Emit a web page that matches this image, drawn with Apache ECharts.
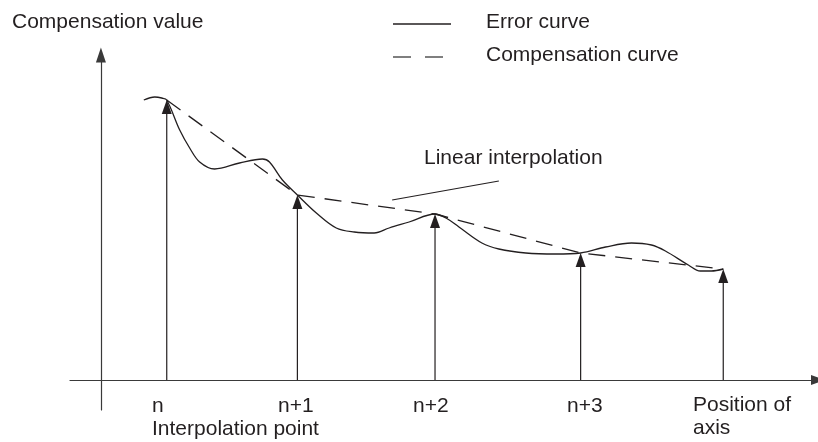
<!DOCTYPE html>
<html>
<head>
<meta charset="utf-8">
<script src="https://cdn.jsdelivr.net/npm/echarts@6/dist/echarts.min.js"></script>
<style>
  html, body { margin: 0; padding: 0; background: #fff; }
  #chart { width: 818px; height: 442px; }
</style>
</head>
<body>
<div id="chart"></div>
<script>
  // position along the axis (x) and compensation value (y)
  var errX = [43, 54, 61, 66, 79, 89, 99, 114, 139, 162, 169, 182, 197, 216, 236, 254, 274, 289, 309, 335, 346, 359, 382, 399, 426, 456, 481, 506, 532, 552, 566, 589, 601, 612, 624];
  var errY = [280, 283, 282, 280, 250, 232, 218, 211, 217, 221, 218, 200, 185, 167, 152, 148, 147, 152, 158, 166, 162, 153, 137, 131, 127, 126, 127, 133, 137, 135, 129, 115, 109, 109, 111];

  // interpolation points
  var interpX = [66, 197, 335, 481, 624];
  var interpY = [280, 185, 166, 127, 111];
  var tickLabels = ['n', 'n+1', 'n+2', 'n+3', 'Position of\naxis'];

  // leader line of the "Linear interpolation" note
  var leaderX = [292, 399];
  var leaderY = [180, 199];

  var ink = '#231f20';
  var font = '21px "Liberation Sans", Arial, sans-serif';

  function pairs(xs, ys) {
    var out = [];
    for (var i = 0; i < xs.length; i++) out.push([xs[i], ys[i]]);
    return out;
  }

  function txt(text, x, y) {
    return { type: 'text', x: x, y: y, silent: true,
      style: { text: text, font: font, fill: ink, verticalAlign: 'middle', lineHeight: 23 } };
  }

  var chart = echarts.init(document.getElementById('chart'));
  var option = {
    animation: false,
    grid: { left: 70, right: -2, top: 55, bottom: 32 },
    xAxis: {
      type: 'value', min: -31, max: 719,
      axisLine: { onZero: true, symbol: ['none', 'triangle'], symbolSize: [10, 14], lineStyle: { color: '#3a3a3a', width: 1.2 } },
      axisTick: { show: false }, axisLabel: { show: false }, splitLine: { show: false }
    },
    yAxis: {
      type: 'value', min: -30, max: 325,
      axisLine: { onZero: true, symbol: ['none', 'triangle'], symbolSize: [10, 15], lineStyle: { color: '#3a3a3a', width: 1.2 } },
      axisTick: { show: false }, axisLabel: { show: false }, splitLine: { show: false }
    },
    series: [
      {
        name: 'Error curve', type: 'line', data: pairs(errX, errY), smooth: 0.35,
        showSymbol: false, lineStyle: { color: ink, width: 1.3 }
      },
      {
        name: 'Compensation curve', type: 'line', data: pairs(interpX, interpY),
        showSymbol: false, lineStyle: { color: ink, width: 1.3, type: [17, 10] }
      },
      {
        name: 'leader', type: 'line', data: pairs(leaderX, leaderY),
        showSymbol: false, lineStyle: { color: ink, width: 1.2 }
      },
      {
        // arrows from the axis up to each interpolation point
        name: 'points', type: 'custom', data: pairs(interpX, interpY),
        renderItem: function (params, api) {
          var top = api.coord([api.value(0), api.value(1)]);
          var base = api.coord([api.value(0), 0]);
          return {
            type: 'group',
            children: [
              { type: 'line', shape: { x1: base[0], y1: base[1], x2: top[0], y2: top[1] + 12 }, style: { stroke: ink, lineWidth: 1.2 } },
              { type: 'polygon', shape: { points: [[top[0], top[1]], [top[0] - 5, top[1] + 14], [top[0] + 5, top[1] + 14]] }, style: { fill: ink } }
            ]
          };
        }
      }
    ],
    graphic: [
      txt('Compensation value', 12, 22),
      { type: 'line', shape: { x1: 393, y1: 24, x2: 451, y2: 24 }, style: { stroke: ink, lineWidth: 1.3 } },
      txt('Error curve', 486, 22),
      { type: 'line', shape: { x1: 393, y1: 57, x2: 443, y2: 57 }, style: { stroke: '#555', lineWidth: 1.3, lineDash: [18, 14] } },
      txt('Compensation curve', 486, 55),
      txt('Linear interpolation', 424, 158),
      txt(tickLabels[0], 152, 406),
      txt('Interpolation point', 152, 429),
      txt(tickLabels[1], 278, 406),
      txt(tickLabels[2], 413, 406),
      txt(tickLabels[3], 567, 406),
      txt(tickLabels[4], 693, 417)
    ]
  };
  chart.setOption(option);
</script>
</body>
</html>
